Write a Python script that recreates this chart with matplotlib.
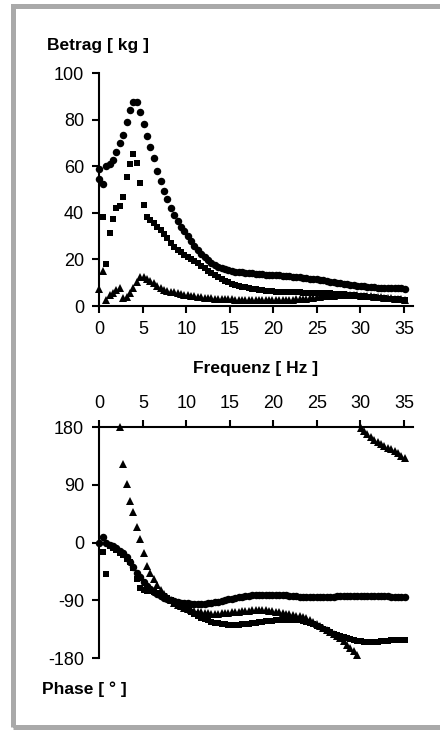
import matplotlib
matplotlib.use('Agg')
import matplotlib.pyplot as plt
import numpy as np
from matplotlib.patches import Rectangle

plt.rcParams['font.family'] = ['Liberation Sans', 'DejaVu Sans']
plt.rcParams['axes.unicode_minus'] = False

nan = np.nan

# Frequenzraster der Messung (Hz)
df = 0.39
freq = np.arange(91) * df

# Betrag [kg] – Kreise, Quadrate, Dreiecke
betrag_kreis = [59, 52.4, 60.2, 61.1, 62.5, 66, 70, 73.5, 78.8, 84,
                87.6, 87.6, 83.3, 78, 73, 68.2, 63.4, 58, 53.6, 49.4,
                45.8, 42.2, 39, 36.5, 34, 32, 30, 27.8, 25.8, 24,
                22.4, 21, 19.7, 18.6, 17.6, 16.8, 16.2, 15.7, 15.3, 15,
                14.8, 14.6, 14.4, 14.2, 14.1, 14, 13.9, 13.8, 13.6, 13.5,
                13.4, 13.3, 13.2, 13.1, 13, 12.9, 12.8, 12.6, 12.5, 12.3,
                12.2, 12, 11.8, 11.6, 11.4, 11.2, 11, 10.8, 10.5, 10.3,
                10, 9.8, 9.5, 9.3, 9.1, 8.9, 8.7, 8.5, 8.4, 8.2,
                8.1, 8, 7.9, 7.9, 7.8, 7.8, 7.7, 7.7, 7.6, 7.6, 7.5]
betrag_kreis_extra = [(0.0, 54.5)]
betrag_quadrat = [nan, 38, 18, 31.2, 37.3, 42.2, 43, 47, 55.5, 61,
                  65.1, 61.2, 53, 43.5, 38.3, 37, 35.5, 34, 32.5, 30.8,
                  29, 27, 25.5, 24.2, 23, 22, 21, 20.2, 19.3, 18.3,
                  17.2, 16.2, 15, 14, 13.1, 12.3, 11.6, 10.9, 10.2, 9.6,
                  9.1, 8.7, 8.3, 8, 7.7, 7.4, 7.2, 7, 6.8, 6.6,
                  6.5, 6.3, 6.2, 6.1, 6, 6, 5.9, 5.9, 5.8, 5.8,
                  5.7, 5.7, 5.7, 5.6, 5.6, 5.6, 5.5, 5.5, 5.4, 5.3,
                  5.2, 5.1, 5, 4.9, 4.7, 4.6, 4.4, 4.3, 4.1, 4,
                  3.8, 3.7, 3.5, 3.4, 3.3, 3.1, 3, 2.9, 2.8, 2.7, 2.7]
betrag_dreieck = [7.5, 15, 2.6, 4.7, 5.7, 6.9, 7.9, 3.3, 4, 5.4,
                  7.9, 10.4, 12.6, 12.6, 11.7, 10.7, 9.7, 8.7, 7.8, 7,
                  6.5, 6.2, 5.8, 5.5, 5.2, 4.9, 4.6, 4.4, 4.2, 4,
                  3.8, 3.6, 3.5, 3.3, 3.2, 3.1, 3, 2.9, 2.8, 2.8,
                  2.7, 2.7, 2.6, 2.6, 2.6, 2.6, 2.6, 2.6, 2.6, 2.6,
                  2.6, 2.6, 2.6, 2.6, 2.6, 2.6, 2.7, 2.7, 2.8, 2.9,
                  3, 3.2, 3.4, 3.6, 3.8, 4, 4.1, 4.3, 4.4, 4.5,
                  4.6, 4.7, 4.7, 4.7, 4.7, 4.6, 4.6, 4.5, 4.4, 4.3,
                  4.2, 4, 3.9, 3.7, 3.6, 3.4, 3.3, 3.1, 3, 2.8, 2.7]

# Phase [°]
phase_kreis = [0, 8, -1, -3.5, -6, -9, -12.5, -17, -22, -30,
               -38, -47, -53, -61, -68, -73, -77, -80.5, -83.5, -86,
               -88, -90, -91.5, -92.5, -93.5, -94.5, -95, -95.5, -96, -96,
               -96, -95.5, -95, -94, -93, -92, -91, -89.5, -88.5, -87.5,
               -86.5, -85.5, -84.5, -83.5, -83, -82.5, -82, -81.5, -81.5, -81.5,
               -81.5, -81.5, -81.5, -82, -82, -82.5, -83, -83.5, -84, -84.5,
               -85, -85, -85.5, -85.5, -85.5, -85.5, -85, -85, -84.5, -84.5,
               -84, -84, -84, -83.5, -83.5, -83.5, -83.5, -83.5, -83.5, -83.5,
               -83.5, -84, -84, -84, -84, -84, -84.5, -84.5, -84.5, -85, -85]
phase_quadrat = [nan, -14, -49, -6, -9, -12, -16, -19.5, -25, -31,
                 -40, -57.5, -71, -74, -75, -76, -77.5, -79, -81, -84,
                 -87, -90, -93, -96, -99, -102, -105, -108, -111, -114,
                 -117, -119.5, -121.5, -123.5, -125, -126, -127, -127.5, -128, -128,
                 -128, -128, -127.5, -127, -126.5, -126, -125, -124.5, -124, -123,
                 -122.5, -122, -121.5, -121, -121, -120.5, -120.5, -120.5, -121, -121.5,
                 -122.5, -124, -125.5, -127.5, -129.5, -132, -134.5, -137, -139.5, -142,
                 -144, -146, -148, -149.5, -151, -152, -153, -154, -154.5, -155,
                 -155, -155, -154.5, -154, -153.5, -153, -152.5, -152.5, -152, -152, -152]
phase_dreieck = [nan, nan, nan, nan, nan, nan, 180, 122, 92, 65,
                 47, 24, 5, -17, -36, -48, -57, -66, -74, -80,
                 -85, -90, -94, -97, -99.5, -101.5, -103.5, -105, -106.5, -108,
                 -109, -110, -110.5, -111, -111, -111, -110.5, -110, -109.5, -109,
                 -108, -107.5, -107, -106.5, -106, -105.5, -105, -105, -105, -105.5,
                 -106, -107, -108, -109, -110, -111, -112, -113, -114, -115,
                 -116, -118, -121, -124, -127, -130, -133, -136, -139, -142,
                 -145, -149, -154, -159, -164, -169, -175, 179, 174, 169,
                 164.5, 160.5, 157, 154, 151, 148, 145, 142, 139, 135.5, 132]

x_ticks = [0, 5, 10, 15, 20, 25, 30, 35]
betrag_ticks = [0, 20, 40, 60, 80, 100]
phase_ticks = [-180, -90, 0, 90, 180]

fig = plt.figure(figsize=(4.4, 7.34), dpi=100)

# grauer Rahmen
fig.patches.append(Rectangle((12.5 / 440, 7 / 734), 1.0, 721.5 / 734,
                             transform=fig.transFigure, fill=False,
                             ec='#a9a9a9', lw=3.6))

ax1 = fig.add_axes([0.2261, 0.5831, 0.7128, 0.3174])
ax2 = fig.add_axes([0.2261, 0.1035, 0.7128, 0.3147])

stil = dict(ls='none', color='black', mew=0, clip_on=False)

ax1.plot(freq, betrag_kreis, marker='o', ms=5.4, **stil)
ax1.plot([p[0] for p in betrag_kreis_extra], [p[1] for p in betrag_kreis_extra],
         marker='o', ms=5.4, **stil)
ax1.plot(freq, betrag_quadrat, marker='s', ms=4.6, **stil)
ax1.plot(freq, betrag_dreieck, marker='^', ms=5.2, **stil)

ax2.plot(freq, phase_kreis, marker='o', ms=5.4, **stil)
ax2.plot(freq, phase_quadrat, marker='s', ms=4.6, **stil)
ax2.plot(freq, phase_dreieck, marker='^', ms=5.2, **stil)

for ax in (ax1, ax2):
    ax.set_xlim(0, 36.06)
    ax.set_xticks(x_ticks)
    for s in ax.spines.values():
        s.set_linewidth(1.5)
    ax.tick_params(direction='out', length=5, width=1.5, labelsize=13, pad=6)

ax1.set_ylim(0, 100)
ax1.set_yticks(betrag_ticks)
ax1.spines['top'].set_visible(False)
ax1.spines['right'].set_visible(False)

ax2.set_ylim(-180, 180)
ax2.set_yticks(phase_ticks)
ax2.spines['bottom'].set_visible(False)
ax2.spines['right'].set_visible(False)
ax2.xaxis.tick_top()

fig.text(47 / 440, 1 - 50 / 734, 'Betrag [ kg ]', fontsize=12.5,
         fontweight='bold', ha='left', va='baseline')
fig.text(256 / 440, 1 - 372.5 / 734, 'Frequenz [ Hz ]', fontsize=12.5,
         fontweight='bold', ha='center', va='baseline')
fig.text(42 / 440, 1 - 694.3 / 734, 'Phase [ ° ]', fontsize=12.5,
         fontweight='bold', ha='left', va='baseline')

fig.savefig('out.png', dpi=100)
